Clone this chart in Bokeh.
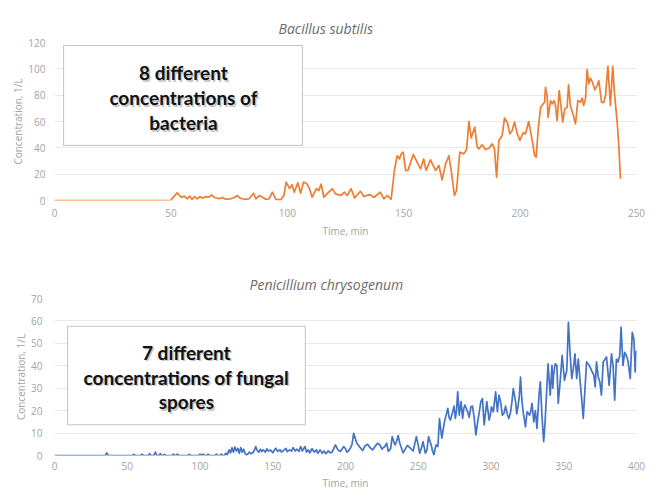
from bokeh.plotting import figure
from bokeh.models import Range1d, FixedTicker, BoxAnnotation, Label, Title
from bokeh.layouts import column
from bokeh.embed import file_html
from bokeh.resources import INLINE

# ---------------- data ----------------
bs_title = "Bacillus subtilis"
bs_box_lines = ["8 different", "concentrations of", "bacteria"]
bs_xticks = [0, 50, 100, 150, 200, 250]
bs_yticks = [0, 20, 40, 60, 80, 100, 120]
bs_t = [0, 49.8,
        52.7, 54.4, 55.8, 57.0, 58.1, 59.1, 60.1, 61.3, 62.5, 63.5,
        64.9, 66.4, 67.4, 68.5, 70.7, 72.1, 73.5, 75.7, 77.4, 78.6,
        79.7, 80.7, 82.2, 83.6, 85.5, 86.5, 87.9, 89.4, 90.8, 92.2,
        93.6, 95.1, 97.2, 98.5, 99.5, 101.0, 102.0, 103.0, 104.5, 105.7,
        107.0, 108.5, 109.5, 110.7, 112.5, 113.5, 114.5, 115.7, 117.8, 119.3,
        120.7, 122.9, 124.6, 125.7, 127.4, 128.9, 131.4, 132.9, 135.4, 137.2,
        140.0, 141.5, 142.9, 144.6, 146.0, 147.2, 148.2, 148.9, 149.8, 150.8,
        151.8, 154.1, 155.8, 157.2, 158.6, 159.6, 161.5, 163.7, 165.1, 166.5,
        168.0, 169.4, 170.4, 171.8, 172.7, 174.1, 175.8, 177.0, 178.0, 179.0,
        180.5, 181.6, 182.3, 183.7, 185.1, 186.6, 188.0, 189.0, 189.9, 190.9,
        192.3, 193.3, 194.5, 195.6, 196.6, 197.6, 198.8, 199.9, 201.3, 202.3,
        203.7, 205.2, 206.2, 206.9, 207.8, 208.8, 209.9, 210.5, 210.9, 211.6,
        212.0, 213.1, 213.8, 214.5, 215.2, 215.9, 216.8, 217.6, 218.3, 219.2,
        220.2, 220.8, 221.6, 222.8, 223.8, 224.8, 225.9, 226.7, 227.3, 228.1,
        228.8, 229.5, 230.2, 231.1, 232.1, 233.1, 233.8, 235.0, 236.0, 236.7,
        237.7, 238.8, 239.8, 240.5, 241.7, 242.4, 243.1]
bs_v = [0, 0,
        5.8, 2.5, 3.3, 1.3, 3.3, 0.8, 3.0, 1.3, 3.0, 1.8,
        3.0, 2.5, 4.3, 2.5, 1.3, 2.3, 1.0, 1.3, 2.5, 3.8,
        1.8, 1.3, 0.8, 1.3, 5.5, 1.3, 3.8, 2.5, 0.8, 1.3,
        6.3, 0.8, 0.5, 3.8, 14.0, 9.0, 12.0, 6.3, 13.5, 5.6,
        14.0, 12.5, 9.0, 2.5, 9.0, 7.5, 12.5, 2.5, 6.3, 8.9,
        5.0, 3.8, 6.3, 3.8, 8.9, 2.0, 7.0, 3.0, 4.5, 2.5,
        6.3, 1.2, 3.8, 0.8, 22.8, 34.0, 31.6, 35.4, 36.7, 22.8,
        22.8, 35.0, 29.0, 24.0, 31.6, 22.8, 30.9, 22.8, 26.6, 15.7,
        27.9, 34.0, 22.8, 3.8, 7.6, 36.7, 35.4, 38.5, 60.2, 47.6,
        55.7, 40.5, 39.2, 42.3, 38.7, 39.7, 43.0, 39.2, 17.7, 45.6,
        49.4, 62.5, 59.5, 50.6, 53.1, 59.5, 50.6, 45.6, 51.4, 50.6,
        60.0, 45.6, 34.2, 32.9, 54.4, 70.8, 73.4, 74.6, 86.0, 79.7,
        63.2, 75.9, 73.4, 75.9, 72.1, 60.7, 83.5, 70.8, 59.5, 69.6,
        70.8, 87.9, 72.1, 65.0, 58.2, 75.9, 74.6, 77.7, 72.1, 77.2,
        99.5, 88.6, 92.9, 89.8, 84.0, 87.3, 91.1, 74.6, 74.6, 79.7,
        102.0, 72.1, 102.0, 82.2, 59.5, 41.8, 16.5]

pc_title = "Penicillium chrysogenum"
pc_box_lines = ["7 different", "concentrations of fungal", "spores"]
pc_xticks = [0, 50, 100, 150, 200, 250, 300, 350, 400]
pc_yticks = [0, 10, 20, 30, 40, 50, 60, 70]
pc_t = [0, 34.9, 35.9, 36.9, 53.5, 54.5, 55.5, 59.2, 60.2, 61.2,
        64.4, 65.4, 66.4, 68.3, 69.3, 70.3, 71.7, 72.7, 73.7, 74.6,
        75.6, 76.6, 80.8, 81.8, 82.8, 83.5, 84.5, 85.5, 91.7, 92.7,
        93.7, 99.0, 100.0, 101.1, 102.2, 103.2, 104.6, 105.6, 106.6, 110.3,
        111.3, 112.3, 113.7, 114.7, 115.7, 116.7, 117.7, 118.7, 120, 121,
        122, 123, 124, 125, 126, 127, 128, 129, 130, 131,
        132, 133, 134, 135, 136.3, 137.5, 138.3, 139.5, 140.5, 141.5,
        142.5, 143.5, 145, 146, 147, 148.5, 150, 151, 152, 153.5,
        155, 156, 157.5, 159, 160, 161.5, 163, 164, 165.5, 166.5,
        168, 169.2, 170.3, 171.2, 172.2, 173.2, 174.5, 175.5, 177, 178.5,
        180, 181, 182.5, 184, 185.2, 186.5, 188, 189.5, 190.8, 193.1,
        196.5, 198.8, 201.0, 203.3, 205.6, 207.8, 210.1, 213.5, 216.9, 220.3,
        223.7, 226.0, 228.3, 229.4, 232.1, 234.0, 236.2, 238.5, 240.8, 244.2,
        248.7, 251.0, 253.3, 254.9, 257.1, 258.9, 260.8, 262.3, 263.5, 264.6,
        266.2, 268.0, 270.3, 272.1, 273.7, 275.5, 277.1, 278.2, 279.4, 280.5,
        282.1, 283.9, 286.2, 288.5, 289.6, 291.2, 293.0, 294.1, 295.3, 297.1,
        298.7, 300.3, 301.6, 303.2, 304.4, 305.5, 306.6, 307.8, 308.9, 311.2,
        313.5, 315.3, 316.9, 318.5, 320.3, 322.1, 323.7, 324.8, 326.6, 328.2,
        329.4, 331.6, 333.0, 333.9, 335.0, 336.2, 338.0, 339.2, 340.7, 341.9,
        343.0, 344.1, 345.3, 346.2, 347.5, 348.9, 350.5, 352.1, 353.2, 354.3,
        355.5, 356.6, 357.7, 358.9, 360.0, 361.1, 362.3, 363.4, 364.6, 365.7,
        367.5, 369.1, 370.7, 371.6, 372.5, 373.7, 374.8, 375.9, 377.1, 379.4,
        381.2, 382.8, 383.9, 385.0, 386.2, 387.3, 388.5, 389.4, 390.7, 391.9,
        393.0, 394.1, 395.7, 397.1, 398.2, 399.1, 399.8]
pc_v = [0, 0, 1.2, 0, 0, 0.5, 0, 0, 0.6, 0,
        0, 0.8, 0, 0, 1.5, 0, 0, 0.8, 0, 0,
        0.5, 0, 0, 0.6, 0, 0, 0.6, 0, 0, 0.5,
        0, 0, 0.6, 0, 0.6, 0, 0, 0.6, 0, 0,
        0.6, 0, 0, 0.6, 0, 0, 1.0, 0.3, 2.5, 1.2,
        3.5, 1.5, 3.8, 2.0, 3.2, 1.0, 3.5, 1.5, 2.8, 0.8,
        0.2, 0.8, 1.5, 0.8, 1.2, 2.5, 4.0, 2.0, 1.5, 2.8,
        1.8, 2.5, 1.5, 3.0, 2.0, 2.5, 1.2, 2.2, 3.2, 1.8,
        2.6, 1.5, 2.3, 3.2, 1.7, 2.5, 2.0, 3.5, 2.0, 2.8,
        1.8, 4.0, 2.0, 3.0, 4.0, 1.5, 2.5, 1.2, 3.0, 1.5,
        2.5, 1.0, 2.5, 1.0, 2.0, 0.8, 2.0, 1.2, 1.5, 4.7,
        1.8, 4.0, 1.5, 3.2, 9.9, 5.5, 3.5, 4.4, 3.5, 4.0,
        4.7, 3.5, 5.5, 1.8, 8.4, 4.7, 8.9, 3.2, 2.5, 3.5,
        8.4, 1.0, 6.2, 1.0, 8.4, 4.7, 0.3, 4.7, 4.0, 16.5,
        7.7, 15.0, 21.0, 15.8, 19.5, 16.5, 28.4, 18.0, 24.0, 16.5,
        22.5, 19.5, 21.7, 16.5, 9.2, 16.5, 24.0, 25.4, 13.6, 24.0,
        15.8, 21.7, 19.5, 28.4, 19.5, 26.9, 24.0, 18.0, 18.8, 18.3,
        19.5, 29.8, 24.0, 21.7, 35.0, 19.5, 12.8, 19.5, 18.0, 23.2,
        15.0, 12.1, 26.9, 32.8, 18.0, 6.2, 25.4, 40.9, 26.9, 40.2,
        35.7, 40.9, 40.2, 23.2, 32.8, 44.6, 33.5, 38.0, 59.4, 46.0,
        34.3, 38.7, 45.3, 34.3, 43.0, 34.3, 25.4, 16.5, 29.8, 41.7,
        40.2, 38.0, 35.7, 30.6, 41.7, 35.0, 32.8, 26.9, 41.7, 43.9,
        31.3, 45.3, 40.2, 24.7, 43.0, 41.7, 44.6, 57.2, 40.2, 46.0,
        44.6, 42.4, 34.3, 54.9, 52.0, 37.2, 46.8]
# extra readings (small fluctuations between the points above)
pc_t_extra = [194.8, 200.0, 202.0, 204.5, 209.0, 211.8, 215.2, 218.6, 222.0, 225.0,
              227.0, 231.0, 235.0, 237.3, 239.6, 242.5, 246.5, 250.0, 252.0, 256.0,
              259.8, 261.5, 269.2, 271.2, 274.6, 276.3, 281.3, 285.0, 287.3, 292.1,
              296.2, 299.5, 302.4, 310.0, 312.3, 314.4, 317.7, 319.4, 321.2, 327.4,
              330.5, 337.1, 342.5]
pc_v_extra = [2.5, 3.0, 2.0, 5.0, 4.5, 2.2, 5.0, 2.5, 5.5, 2.8,
              4.0, 3.0, 6.0, 5.5, 1.2, 4.5, 2.0, 4.5, 3.0, 2.5,
              2.0, 3.0, 18.0, 17.0, 22.0, 20.0, 21.0, 17.0, 22.0, 20.0,
              19.0, 18.0, 24.0, 22.0, 16.5, 24.0, 18.5, 26.0, 25.0, 20.0,
              20.0, 14.0, 30.0]

x_label = "Time, min"
y_label = "Concentration, 1/L"

TICK_COLOR = "#a3a3a3"
FONT = "Open Sans"
BOX_FONT = "Lato"


def make_fig(title, t, v, xmax, ymax, xticks, yticks, color, height,
             b_left, b_right, b_top, b_bottom, title_offset, ylab_standoff,
             xtick_standoff, xlab_standoff):
    p = figure(width=656, height=height, output_backend="svg",
               toolbar_location=None,
               x_range=Range1d(0, xmax), y_range=Range1d(0, ymax),
               min_border_left=b_left, min_border_right=b_right,
               min_border_top=b_top, min_border_bottom=b_bottom)
    p.title.text = title
    p.title.align = "left"
    p.title.offset = title_offset
    p.title.text_font = FONT
    p.title.text_font_style = "italic"
    p.title.text_font_size = "14px"
    p.title.text_color = "#6a6a6a"
    p.outline_line_color = None
    p.background_fill_color = "white"
    p.border_fill_color = "white"

    p.xaxis.ticker = FixedTicker(ticks=xticks)
    p.yaxis.ticker = FixedTicker(ticks=yticks)
    for ax in (p.xaxis[0], p.yaxis[0]):
        ax.axis_line_color = None
        ax.major_tick_line_color = None
        ax.minor_tick_line_color = None
        ax.major_tick_out = 0
        ax.major_tick_in = 0
        ax.major_label_text_font = FONT
        ax.major_label_text_font_size = "10px"
        ax.major_label_text_color = TICK_COLOR
        ax.axis_label_text_font = FONT
        ax.axis_label_text_font_size = "10px"
        ax.axis_label_text_font_style = "normal"
        ax.axis_label_text_color = TICK_COLOR
    p.xaxis.axis_label = x_label
    p.yaxis.axis_label = y_label
    p.xaxis.major_label_standoff = xtick_standoff
    p.xaxis.axis_label_standoff = xlab_standoff
    p.yaxis.major_label_standoff = ylab_standoff
    p.yaxis.axis_label_standoff = 0

    p.xgrid.grid_line_color = None
    p.ygrid.grid_line_color = "#e8e8e8"
    p.ygrid.grid_line_width = 1

    p.line(t, v, line_color=color, line_width=1.7, line_join="round")
    return p


def add_box(p, left, right, top, bottom, lines, cx, ys):
    p.add_layout(BoxAnnotation(left=left, right=right, top=top, bottom=bottom,
                               fill_color="white", fill_alpha=1.0,
                               line_color="#3a3a3a", line_width=1))
    for txt, y in zip(lines, ys):
        p.add_layout(Label(x=cx, y=y, text=txt, text_align="center",
                           text_baseline="middle", text_font=BOX_FONT,
                           text_font_style="bold", text_font_size="19px",
                           text_color="#7a7a7a", text_alpha=0.45,
                           x_offset=1.5, y_offset=-1.5))
        p.add_layout(Label(x=cx, y=y, text=txt, text_align="center",
                           text_baseline="middle", text_font=BOX_FONT,
                           text_font_style="bold", text_font_size="19px",
                           text_color="#111111"))


p1 = make_fig(bs_title, bs_t, bs_v, 250, 120, bs_xticks, bs_yticks,
              "#ED7D31", 250, 54, 20, 42, 50, 224, 9, 8, 4)
add_box(p1, 3.9, 106.5, 117.7, 41.8, bs_box_lines, 55.4, [97.2, 78.2, 59.2])

pc_all = sorted(zip(pc_t + pc_t_extra, pc_v + pc_v_extra))
pc_tt = [a for a, b in pc_all]
pc_vv = [b for a, b in pc_all]
p2 = make_fig(pc_title, pc_tt, pc_vv, 400, 70, pc_xticks, pc_yticks,
              "#4472C4", 242, 50, 19, 48, 36, 195, 12, 6, 3)
add_box(p2, 8.9, 172.4, 57.6, 13.7, pc_box_lines, 90.6, [46.1, 35.0, 23.9])

layout = column(p1, p2, spacing=0)

open("out.html", "w").write(file_html(layout, INLINE))
